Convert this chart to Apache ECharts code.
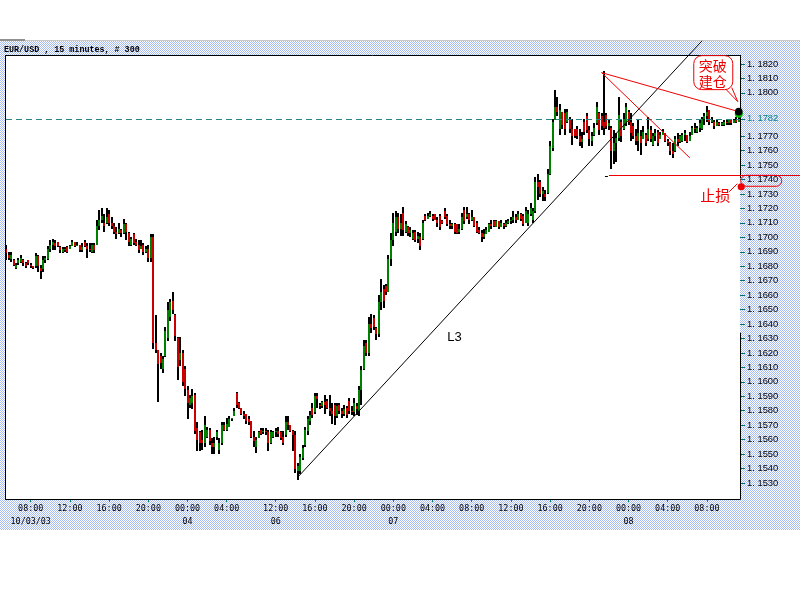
<!DOCTYPE html>
<html><head><meta charset="utf-8">
<script src="https://cdn.jsdelivr.net/npm/echarts@6/dist/echarts.min.js"></script>
<style>
html,body{margin:0;padding:0;background:#fff;}
#wrap{position:relative;width:800px;height:600px;overflow:hidden;background:#fff;}
#bg{position:absolute;left:0;top:41px;width:800px;height:489px;background-image:repeating-conic-gradient(#a8bcf4 0% 25%, #ffffff 0% 50%);background-size:2px 2px;}
#topline{position:absolute;left:0;top:40px;width:800px;height:1px;background:#c8c8c8;}
#topmark{position:absolute;left:0;top:39px;width:25px;height:2px;background:#909090;}
#chart{position:absolute;left:0;top:0;width:800px;height:600px;}
</style></head><body>
<div id="wrap"><div id="bg"></div><div id="topline"></div><div id="topmark"></div><div id="chart"></div></div>
<script>
// ---- data: 15-minute bars [open, high, low, close] ----
const day03 = [
[1.1692,1.1695,1.1684,1.1689],[1.1688,1.1690,1.1684,1.1686],[1.1685,1.1690,1.1683,1.1688],[1.1684,1.1685,1.1680,1.1681],
[1.1679,1.1682,1.1678,1.1681],[1.1682,1.1686,1.1681,1.1684],[1.1683,1.1688,1.1682,1.1686],[1.1684,1.1685,1.1680,1.1682],
[1.1682,1.1683,1.1679,1.1680],[1.1684,1.1684,1.1681,1.1682],[1.1681,1.1682,1.1679,1.1680],[1.1680,1.1680,1.1678,1.1679],
[1.1680,1.1689,1.1679,1.1687],[1.1687,1.1688,1.1676,1.1680],[1.1679,1.1681,1.1671,1.1677],[1.1678,1.1687,1.1676,1.1684],
[1.1684,1.1687,1.1682,1.1686],[1.1685,1.1694,1.1684,1.1692],[1.1692,1.1698,1.1690,1.1695],[1.1695,1.1699,1.1691,1.1697],
[1.1696,1.1698,1.1691,1.1694],[1.1697,1.1697,1.1693,1.1694],[1.1693,1.1694,1.1689,1.1691],[1.1690,1.1693,1.1689,1.1692],
[1.1691,1.1693,1.1690,1.1692],[1.1693,1.1694,1.1689,1.1690],[1.1692,1.1695,1.1692,1.1694],[1.1694,1.1698,1.1694,1.1697],
[1.1697,1.1697,1.1693,1.1694],[1.1694,1.1697,1.1694,1.1695],[1.1695,1.1695,1.1690,1.1691],[1.1691,1.1696,1.1690,1.1693],
[1.1697,1.1698,1.1693,1.1694],[1.1694,1.1696,1.1686,1.1692],[1.1692,1.1696,1.1690,1.1691],[1.1690,1.1696,1.1689,1.1695],
[1.1695,1.1696,1.1689,1.1691],[1.1695,1.1712,1.1695,1.1708],[1.1708,1.1719,1.1705,1.1712],[1.1712,1.1720,1.1710,1.1715],
[1.1710,1.1716,1.1704,1.1708],[1.1710,1.1720,1.1709,1.1714],[1.1716,1.1719,1.1708,1.1710],[1.1710,1.1714,1.1706,1.1708],
[1.1708,1.1710,1.1702,1.1704],[1.1704,1.1707,1.1699,1.1702],[1.1703,1.1710,1.1702,1.1706],[1.1705,1.1706,1.1700,1.1703],
[1.1703,1.1713,1.1702,1.1709],[1.1709,1.1710,1.1698,1.1704],[1.1703,1.1704,1.1694,1.1697],[1.1695,1.1700,1.1694,1.1699],
[1.1702,1.1703,1.1695,1.1696],[1.1697,1.1699,1.1694,1.1695],[1.1695,1.1698,1.1689,1.1691],[1.1692,1.1698,1.1692,1.1694],
[1.1695,1.1696,1.1688,1.1690],[1.1690,1.1694,1.1689,1.1692],[1.1692,1.1695,1.1683,1.1686],[1.1686,1.1702,1.1683,1.1700],
[1.1700,1.1702,1.1623,1.1627],[1.1627,1.1646,1.1620,1.1622],[1.1622,1.1622,1.1586,1.1612],[1.1618,1.1620,1.1609,1.1613],
[1.1609,1.1618,1.1606,1.1616],[1.1618,1.1638,1.1617,1.1635],[1.1630,1.1655,1.1628,1.1650],[1.1645,1.1657,1.1642,1.1655],
[1.1656,1.1662,1.1647,1.1650],[1.1646,1.1647,1.1628,1.1632],[1.1630,1.1631,1.1601,1.1610],[1.1615,1.1631,1.1611,1.1620],
[1.1620,1.1622,1.1597,1.1600],[1.1609,1.1611,1.1590,1.1595]
];
const day04 = [
[1.1594,1.1597,1.1574,1.1585],[1.1584,1.1591,1.1582,1.1589],[1.1585,1.1595,1.1581,1.1590],[1.1591,1.1592,1.1564,1.1566],
[1.1568,1.1572,1.1552,1.1560],[1.1565,1.1566,1.1552,1.1558],[1.1560,1.1567,1.1553,1.1558],[1.1558,1.1576,1.1555,1.1570],
[1.1562,1.1569,1.1561,1.1567],[1.1567,1.1568,1.1556,1.1559],[1.1558,1.1561,1.1550,1.1555],[1.1555,1.1562,1.1550,1.1558],
[1.1562,1.1567,1.1560,1.1565],[1.1553,1.1561,1.1550,1.1558],[1.1558,1.1572,1.1556,1.1570],[1.1570,1.1572,1.1566,1.1567],
[1.1567,1.1575,1.1566,1.1571],[1.1569,1.1576,1.1569,1.1574],[1.1574,1.1575,1.1573,1.1575],[1.1576,1.1582,1.1576,1.1580],
[1.1592,1.1593,1.1582,1.1584],[1.1585,1.1586,1.1581,1.1582],[1.1582,1.1582,1.1577,1.1578],[1.1578,1.1580,1.1574,1.1576]
];
const day06 = [
[1.1578,1.1578,1.1571,1.1573],[1.1574,1.1576,1.1570,1.1572],[1.1573,1.1573,1.1561,1.1562],[1.1562,1.1566,1.1555,1.1559],
[1.1555,1.1562,1.1551,1.1560],[1.1561,1.1566,1.1561,1.1565],[1.1567,1.1568,1.1563,1.1564],[1.1565,1.1568,1.1564,1.1566],
[1.1566,1.1568,1.1563,1.1565],[1.1565,1.1567,1.1552,1.1558],[1.1558,1.1567,1.1557,1.1565],[1.1562,1.1566,1.1561,1.1565],
[1.1565,1.1568,1.1562,1.1566],[1.1566,1.1569,1.1562,1.1564],[1.1565,1.1566,1.1560,1.1561],[1.1562,1.1566,1.1556,1.1558],
[1.1563,1.1576,1.1562,1.1572],[1.1572,1.1576,1.1567,1.1570],[1.1570,1.1570,1.1565,1.1566],[1.1566,1.1567,1.1552,1.1563],
[1.1563,1.1566,1.1537,1.1540],[1.1538,1.1544,1.1532,1.1542],[1.1538,1.1550,1.1536,1.1548],[1.1547,1.1556,1.1546,1.1554],
[1.1556,1.1569,1.1555,1.1567],[1.1566,1.1576,1.1563,1.1574],[1.1573,1.1580,1.1570,1.1577],[1.1582,1.1585,1.1575,1.1577],
[1.1579,1.1592,1.1578,1.1590],[1.1590,1.1592,1.1582,1.1588],[1.1584,1.1585,1.1581,1.1583],[1.1583,1.1587,1.1582,1.1586],
[1.1586,1.1591,1.1578,1.1584],[1.1587,1.1588,1.1581,1.1582],[1.1582,1.1591,1.1576,1.1580],[1.1580,1.1585,1.1571,1.1578],
[1.1584,1.1585,1.1570,1.1576],[1.1576,1.1585,1.1575,1.1583],[1.1584,1.1585,1.1578,1.1580],[1.1580,1.1582,1.1575,1.1578],
[1.1578,1.1584,1.1576,1.1581],[1.1582,1.1583,1.1575,1.1577],[1.1587,1.1589,1.1578,1.1580],[1.1580,1.1583,1.1577,1.1579],
[1.1579,1.1589,1.1576,1.1585],[1.1583,1.1585,1.1577,1.1581],[1.1580,1.1597,1.1576,1.1594],[1.1594,1.1611,1.1584,1.1608],
[1.1609,1.1629,1.1608,1.1625],[1.1627,1.1629,1.1618,1.1620],[1.1620,1.1645,1.1618,1.1640],[1.1640,1.1647,1.1634,1.1637],
[1.1644,1.1646,1.1636,1.1638],[1.1637,1.1638,1.1629,1.1633],[1.1633,1.1660,1.1631,1.1655],[1.1655,1.1671,1.1650,1.1662],
[1.1664,1.1667,1.1651,1.1656],[1.1666,1.1668,1.1660,1.1662],[1.1662,1.1688,1.1662,1.1685],[1.1685,1.1703,1.1680,1.1698]
];
const day07 = [
[1.1698,1.1717,1.1694,1.1710],[1.1704,1.1718,1.1701,1.1714],[1.1714,1.1717,1.1703,1.1706],[1.1706,1.1716,1.1701,1.1710],
[1.1717,1.1721,1.1701,1.1705],[1.1704,1.1711,1.1703,1.1709],[1.1707,1.1708,1.1701,1.1703],[1.1703,1.1707,1.1700,1.1705],
[1.1699,1.1705,1.1698,1.1703],[1.1704,1.1705,1.1697,1.1698],[1.1699,1.1704,1.1696,1.1701],[1.1700,1.1703,1.1691,1.1694],
[1.1699,1.1712,1.1698,1.1710],[1.1715,1.1716,1.1711,1.1712],[1.1713,1.1717,1.1713,1.1715],[1.1715,1.1718,1.1714,1.1716],
[1.1715,1.1716,1.1711,1.1713],[1.1716,1.1716,1.1712,1.1712],[1.1712,1.1714,1.1707,1.1710],[1.1715,1.1716,1.1705,1.1707],
[1.1711,1.1712,1.1709,1.1710],[1.1718,1.1720,1.1713,1.1714],[1.1715,1.1716,1.1708,1.1709],[1.1709,1.1712,1.1706,1.1708],
[1.1708,1.1710,1.1706,1.1709],[1.1709,1.1710,1.1702,1.1704],[1.1709,1.1709,1.1702,1.1703],[1.1704,1.1709,1.1702,1.1706],
[1.1706,1.1717,1.1705,1.1714],[1.1719,1.1721,1.1709,1.1711],[1.1714,1.1721,1.1713,1.1716],[1.1716,1.1717,1.1709,1.1712],
[1.1712,1.1719,1.1711,1.1714],[1.1714,1.1714,1.1707,1.1708],[1.1710,1.1711,1.1703,1.1704],[1.1705,1.1707,1.1702,1.1703],
[1.1703,1.1705,1.1697,1.1700],[1.1700,1.1706,1.1699,1.1702],[1.1702,1.1707,1.1702,1.1705],[1.1704,1.1710,1.1704,1.1709],
[1.1709,1.1712,1.1706,1.1708],[1.1711,1.1712,1.1707,1.1708],[1.1707,1.1712,1.1707,1.1711],[1.1711,1.1711,1.1706,1.1707],
[1.1707,1.1712,1.1707,1.1710],[1.1709,1.1710,1.1706,1.1708],[1.1708,1.1712,1.1707,1.1710],[1.1710,1.1713,1.1709,1.1711],
[1.1711,1.1714,1.1709,1.1712],[1.1712,1.1718,1.1710,1.1714],[1.1714,1.1716,1.1710,1.1712],[1.1712,1.1718,1.1712,1.1716],
[1.1716,1.1717,1.1711,1.1713],[1.1715,1.1716,1.1708,1.1709],[1.1710,1.1721,1.1710,1.1718],[1.1710,1.1719,1.1708,1.1716],
[1.1716,1.1724,1.1715,1.1720],[1.1712,1.1720,1.1710,1.1718],[1.1718,1.1742,1.1717,1.1738],[1.1738,1.1744,1.1726,1.1735],
[1.1738,1.1740,1.1728,1.1730],[1.1730,1.1735,1.1725,1.1732],[1.1730,1.1733,1.1725,1.1728],[1.1731,1.1747,1.1730,1.1744],
[1.1744,1.1767,1.1743,1.1763],[1.1762,1.1782,1.1760,1.1780],[1.1781,1.1802,1.1781,1.1790],[1.1790,1.1797,1.1784,1.1787],
[1.1775,1.1792,1.1771,1.1788],[1.1787,1.1787,1.1775,1.1778],[1.1786,1.1789,1.1771,1.1775],[1.1780,1.1789,1.1779,1.1787],
[1.1782,1.1783,1.1772,1.1775],[1.1775,1.1782,1.1764,1.1770],[1.1775,1.1775,1.1769,1.1770],[1.1775,1.1777,1.1768,1.1770],
[1.1770,1.1775,1.1763,1.1766],[1.1766,1.1773,1.1762,1.1768],[1.1780,1.1782,1.1771,1.1773],[1.1784,1.1786,1.1772,1.1774],
[1.1774,1.1777,1.1763,1.1768],[1.1767,1.1773,1.1763,1.1770],[1.1771,1.1779,1.1770,1.1776],[1.1779,1.1794,1.1778,1.1790],
[1.1786,1.1787,1.1771,1.1774],[1.1784,1.1786,1.1774,1.1777],[1.1780,1.1815,1.1771,1.1776],[1.1785,1.1786,1.1775,1.1777],
[1.1777,1.1781,1.1774,1.1779],[1.1776,1.1777,1.1747,1.1760],[1.1760,1.1774,1.1751,1.1765],[1.1765,1.1772,1.1752,1.1769],
[1.1769,1.1797,1.1767,1.1785],[1.1780,1.1782,1.1766,1.1770],[1.1775,1.1786,1.1774,1.1782],[1.1779,1.1793,1.1777,1.1790]
];
const day08 = [
[1.1787,1.1788,1.1778,1.1780],[1.1780,1.1786,1.1767,1.1772],[1.1777,1.1779,1.1768,1.1770],[1.1770,1.1775,1.1764,1.1767],
[1.1767,1.1781,1.1760,1.1772],[1.1770,1.1774,1.1757,1.1765],[1.1768,1.1777,1.1768,1.1773],[1.1771,1.1772,1.1763,1.1765],
[1.1768,1.1783,1.1767,1.1775],[1.1774,1.1777,1.1766,1.1768],[1.1764,1.1772,1.1763,1.1770],[1.1770,1.1775,1.1767,1.1772],
[1.1773,1.1774,1.1763,1.1765],[1.1768,1.1773,1.1768,1.1771],[1.1771,1.1775,1.1771,1.1773],[1.1772,1.1772,1.1766,1.1767],
[1.1767,1.1768,1.1763,1.1765],[1.1765,1.1766,1.1757,1.1760],[1.1760,1.1765,1.1755,1.1758],[1.1760,1.1770,1.1759,1.1768],
[1.1768,1.1772,1.1763,1.1766],[1.1766,1.1771,1.1765,1.1770],[1.1767,1.1772,1.1766,1.1771],[1.1771,1.1774,1.1767,1.1772],
[1.1771,1.1771,1.1765,1.1766],[1.1767,1.1773,1.1767,1.1770],[1.1771,1.1777,1.1771,1.1776],[1.1776,1.1779,1.1772,1.1775],
[1.1773,1.1777,1.1772,1.1776],[1.1776,1.1781,1.1773,1.1779],[1.1775,1.1783,1.1774,1.1782],[1.1782,1.1786,1.1778,1.1784],
[1.1784,1.1791,1.1780,1.1787],[1.1788,1.1788,1.1778,1.1780],[1.1780,1.1783,1.1779,1.1781],[1.1780,1.1781,1.1775,1.1777],
[1.1777,1.1782,1.1777,1.1780],[1.1779,1.1780,1.1777,1.1778],[1.1778,1.1780,1.1777,1.1779],[1.1778,1.1781,1.1777,1.1780],
[1.1780,1.1781,1.1778,1.1779],[1.1779,1.1782,1.1778,1.1781],[1.1781,1.1781,1.1778,1.1779],[1.1779,1.1782,1.1779,1.1781],
[1.1781,1.1783,1.1779,1.1780],[1.1780,1.1783,1.1780,1.1782]
];

// ---- axis ticks / labels ----
const xTickIndex = [10,26,42,58,74,90,110,126,142,158,174,190,206,222,238,254,270,286];
const xTickText = ['08:00\n10/03/03','12:00','16:00','20:00','00:00\n04','04:00','12:00\n06','16:00','20:00',
                   '00:00\n07','04:00','08:00','12:00','16:00','20:00','00:00\n08','04:00','08:00'];
const yTickValues = [1.1530,1.1540,1.1550,1.1560,1.1570,1.1580,1.1590,1.1600,1.1610,1.1620,1.1630,1.1640,1.1650,
                     1.1660,1.1670,1.1680,1.1690,1.1700,1.1710,1.1720,1.1730,1.1740,1.1750,1.1760,1.1770,1.1782,
                     1.1800,1.1810,1.1820];
const yMin = 1.15189, yMax = 1.18262;

// ---- annotations (data space) ----
const lastPrice = 1.1782;
const trendL3 = [[119, 1.1534], [284, 1.1836]];
const resistLine = [[243, 1.1814], [299, 1.1787]];
const fallLine = [[243, 1.1814], [279, 1.1755]];
const stopLevel = 1.1743, stopStartIdx = 246;
const breakoutPoint = [299, 1.1787];
const stopPoint = [300, 1.1735];
const l3LabelPoint = [183, 1.1631];

const bars = day03.concat(day04, day06, day07, day08);
const categories = bars.map((b, i) => String(i));
const labelMap = {};
xTickIndex.forEach((idx, k) => { labelMap[idx] = xTickText[k]; });
const seriesData = bars.map((b, i) => [i, b[0], b[1], b[2], b[3]]);

const G = {left: 5, top: 55, width: 735, height: 444};
const UP = '#008000', DOWN = '#c80000', RED = '#ee0000';

const chart = echarts.init(document.getElementById('chart'));
chart.setOption({
  animation: false,
  title: {text: 'EUR/USD , 15 minutes, # 300', left: 4, top: 46, padding: 0,
    textStyle: {fontFamily: 'Liberation Mono', fontSize: 8.4, fontWeight: 'bold', color: '#000'}},
  grid: Object.assign({show: true, backgroundColor: '#fff', borderWidth: 0}, G),
  xAxis: {
    type: 'category', data: categories, boundaryGap: true,
    axisLine: {show: false}, splitLine: {show: false},
    axisTick: {show: true, alignWithLabel: true, length: 3, lineStyle: {color: '#008080'},
      interval: (i) => labelMap[i] !== undefined},
    axisLabel: {interval: (i) => labelMap[i] !== undefined, formatter: (v, i) => labelMap[i] || '',
      margin: 3, fontFamily: 'DejaVu Sans Mono', fontSize: 8.4, lineHeight: 13, color: '#000'}
  },
  yAxis: {
    type: 'value', position: 'right', min: yMin, max: yMax, scale: true,
    axisLine: {show: false}, splitLine: {show: false},
    axisTick: {show: true, length: 5, lineStyle: {color: '#007070'}, customValues: yTickValues},
    axisLabel: {customValues: yTickValues, margin: 7, fontFamily: 'Liberation Sans', fontSize: 9.4,
      formatter: (v) => v.toFixed(4).replace('.', '. '),
      color: (v) => Math.abs(v - lastPrice) < 1e-6 ? '#008080' : '#000'}
  },
  series: [{
    type: 'custom', data: seriesData, encode: {x: 0, y: [1, 2, 3, 4]},
    renderItem: function (params, api) {
      const i = api.value(0);
      const o = api.value(1), h = api.value(2), l = api.value(3), c = api.value(4);
      const pH = api.coord([i, h]), pL = api.coord([i, l]);
      const pO = api.coord([i, o]), pC = api.coord([i, c]);
      const x = Math.round(pH[0] - 1);
      const yH = Math.round(pH[1]), yL = Math.round(pL[1]);
      const children = [{type: 'rect', shape: {x: x, y: yH, width: 2, height: Math.max(1, yL - yH)}, style: {fill: '#000'}}];
      if (c !== o) {
        const y1 = Math.round(Math.min(pO[1], pC[1])), y2 = Math.round(Math.max(pO[1], pC[1]));
        children.push({type: 'rect', shape: {x: x, y: y1, width: 2, height: Math.max(1, y2 - y1)},
          style: {fill: c > o ? UP : DOWN}});
      }
      return {type: 'group', children: children};
    }
  }]
});

// ---- overlay drawings via the chart's own coordinate conversion ----
const px = (d) => chart.convertToPixel({gridIndex: 0}, d);
const R = G.left + G.width, B = G.top + G.height;
const line = (a, b, color, extra) => Object.assign({type: 'line', silent: true, z: 100,
  shape: {x1: a[0], y1: a[1], x2: b[0], y2: b[1]}, style: {stroke: color, lineWidth: 1}}, extra || {});

const yLast = px([0, lastPrice])[1];
const l3a = px(trendL3[0]), l3b = px(trendL3[1]);
const ra = px(resistLine[0]), rb = px(resistLine[1]);
const fa = px(fallLine[0]), fb = px(fallLine[1]);
const sa = px([stopStartIdx, stopLevel]);
const P = px(breakoutPoint);
const S = px(stopPoint);
const L3 = px(l3LabelPoint);
const gapTop = px([0, 1.1741])[1], gapBot = px([0, 1.1634])[1];

const graphics = [
  line([G.left, G.top + 0.5], [R + 0.5, G.top + 0.5], '#000'),
  line([G.left + 0.5, G.top], [G.left + 0.5, B + 0.5], '#000'),
  line([G.left, B + 0.5], [R + 0.5, B + 0.5], '#000'),
  line([R + 0.5, G.top], [R + 0.5, gapTop], '#000'),
  line([R + 0.5, gapBot], [R + 0.5, B + 0.5], '#000'),
  line([G.left + 1, Math.round(yLast) + 0.5], [R, Math.round(yLast) + 0.5], '#2a8585', {style: {stroke: '#2a8585', lineWidth: 1, lineDash: [6, 4]}}),
  line(l3a, l3b, '#000'),
  line(ra, rb, RED),
  line(fa, fb, RED),
  line([sa[0], Math.round(sa[1]) + 0.5], [800, Math.round(sa[1]) + 0.5], RED),
  line([sa[0] - 4, Math.round(sa[1]) + 1.5], [sa[0] - 1, Math.round(sa[1]) + 1.5], '#000'),
  {type: 'text', silent: true, z: 100, x: L3[0], y: L3[1],
    style: {text: 'L3', fill: '#000', font: '13px "Liberation Sans"', align: 'center', verticalAlign: 'middle'}},
  {type: 'rect', silent: true, z: 101, shape: {x: P[0] - 45, y: P[1] - 56, width: 39, height: 34, r: 8},
    style: {fill: '#fff', stroke: RED, lineWidth: 1}},
  {type: 'polyline', silent: true, z: 102, shape: {points: [[P[0] - 13, P[1] - 22.5], [P[0] - 1, P[1] - 10], [P[0] - 7, P[1] - 24]]},
    style: {stroke: RED, fill: null, lineWidth: 1}},
  {type: 'text', silent: true, z: 103, x: P[0] - 26, y: P[1] - 46,
    style: {text: '突破', fill: RED, font: '14px "Noto Sans CJK SC"', align: 'center', verticalAlign: 'middle'}},
  {type: 'text', silent: true, z: 103, x: P[0] - 26, y: P[1] - 30,
    style: {text: '建仓', fill: RED, font: '14px "Noto Sans CJK SC"', align: 'center', verticalAlign: 'middle'}},
  {type: 'circle', silent: true, z: 104, shape: {cx: P[0], cy: P[1] + 2, r: 4}, style: {fill: '#00c000'}},
  {type: 'circle', silent: true, z: 105, shape: {cx: P[0], cy: P[1], r: 3.8}, style: {fill: '#000'}},
  {type: 'rect', silent: true, z: 101, shape: {x: S[0] - 0.5, y: S[1] - 11.5, width: 41, height: 11, r: 5.5},
    style: {fill: null, stroke: RED, lineWidth: 1}},
  {type: 'circle', silent: true, z: 105, shape: {cx: S[0], cy: S[1], r: 3.6}, style: {fill: RED}},
  line([S[0] - 12, S[1] + 5], [S[0] - 4, S[1] - 3], RED),
  {type: 'text', silent: true, z: 103, x: S[0] - 11, y: S[1] + 9,
    style: {text: '止损', fill: RED, font: '15px "Noto Sans CJK SC"', align: 'right', verticalAlign: 'middle'}}
];
chart.setOption({graphic: graphics});
</script>
</body></html>
